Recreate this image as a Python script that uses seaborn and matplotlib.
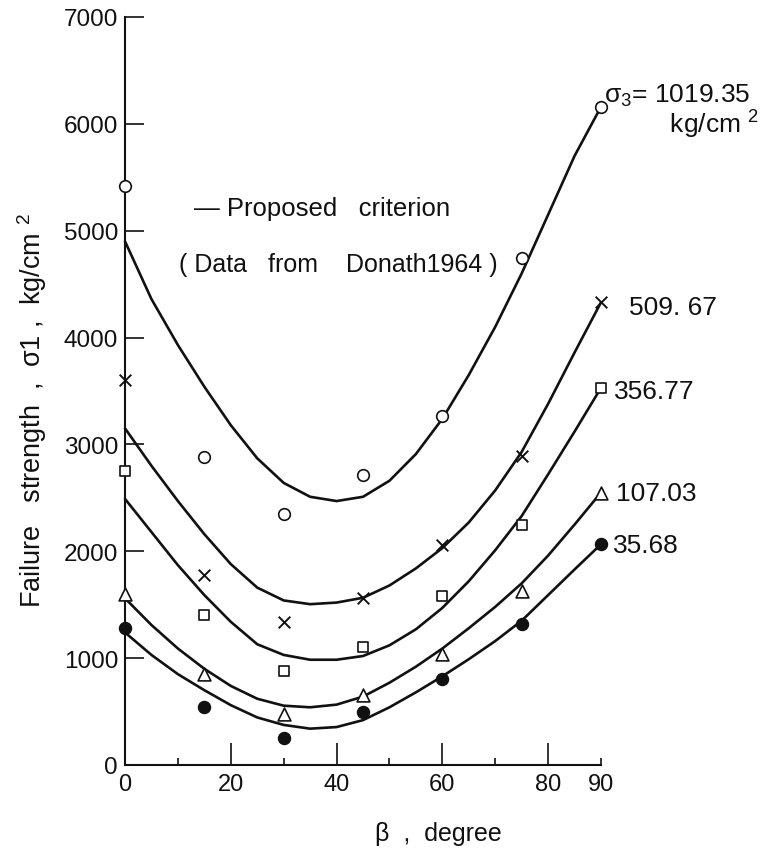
import numpy as np
import pandas as pd
import matplotlib
matplotlib.use("Agg")
import matplotlib.pyplot as plt
import seaborn as sns
from matplotlib.ticker import FixedLocator, FixedFormatter

# Inclination of the plane of weakness, degrees
beta_test = [0, 15, 30, 45, 60, 75, 90]
beta_curve = [0, 5, 10, 15, 20, 25, 30, 35, 40, 45, 50, 55, 60, 65, 70, 75, 80, 85, 90]

# Confining pressure sigma_3, kg/cm^2
confining = ["1019.35", "509.67", "356.77", "107.03", "35.68"]

# Measured failure strength sigma_1, kg/cm^2 (Donath 1964)
test_1019 = [5420, 2880, 2350, 2710, 3270, 4740, 6160]
test_509 = [3600, 1780, 1340, 1565, 2055, 2895, 4330]
test_356 = [2750, 1400, 880, 1105, 1585, 2245, 3530]
test_107 = [1600, 850, 475, 657, 1042, 1624, 2550]
test_35 = [1280, 545, 250, 498, 808, 1315, 2066]

# Proposed criterion, sigma_1 in kg/cm^2
crit_1019 = [4900, 4360, 3930, 3540, 3180, 2870, 2640, 2510, 2470, 2510,
             2660, 2910, 3240, 3650, 4100, 4600, 5150, 5700, 6160]
crit_509 = [3150, 2800, 2470, 2160, 1880, 1660, 1540, 1505, 1520, 1565,
            1680, 1840, 2030, 2270, 2570, 2930, 3380, 3860, 4330]
crit_356 = [2490, 2180, 1870, 1590, 1340, 1130, 1030, 985, 985, 1020,
            1120, 1270, 1470, 1720, 2010, 2330, 2720, 3120, 3530]
crit_107 = [1560, 1310, 1090, 900, 740, 620, 555, 540, 565, 640,
            770, 920, 1090, 1280, 1480, 1700, 1960, 2250, 2550]
crit_35 = [1240, 1030, 850, 700, 560, 445, 375, 340, 355, 420,
           540, 680, 830, 990, 1160, 1350, 1590, 1830, 2066]

tests = pd.concat([
    pd.DataFrame({"beta": beta_test, "sigma1": v, "sigma3": c})
    for c, v in zip(confining, [test_1019, test_509, test_356, test_107, test_35])
])
curves = pd.concat([
    pd.DataFrame({"beta": beta_curve, "sigma1": v, "sigma3": c})
    for c, v in zip(confining, [crit_1019, crit_509, crit_356, crit_107, crit_35])
])

sns.set_theme(style="white")
plt.rcParams["font.family"] = ["Liberation Sans", "DejaVu Sans"]
plt.rcParams["mathtext.fontset"] = "custom"
plt.rcParams["mathtext.rm"] = "Liberation Sans"
plt.rcParams["mathtext.it"] = "Liberation Sans:italic"
plt.rcParams["mathtext.bf"] = "Liberation Sans:bold"

INK = "#111111"

fig = plt.figure(figsize=(7.77, 8.53), dpi=100)
ax = fig.add_axes([0.1609, 0.1020, 0.6126, 0.8769])

# Criterion curves
for c in confining:
    sns.lineplot(data=curves[curves["sigma3"] == c], x="beta", y="sigma1",
                 color=INK, linewidth=1.9, estimator=None, sort=True,
                 legend=False, ax=ax, clip_on=False, zorder=2)

# Test data, one marker style per confining pressure
marker_styles = {
    "1019.35": dict(marker="o", facecolor="white", edgecolor=INK, s=70, linewidth=1.2),
    "509.67": dict(marker="x", color=INK, s=70, linewidth=1.4),
    "356.77": dict(marker="s", facecolor="white", edgecolor=INK, s=60, linewidth=1.2),
    "107.03": dict(marker="^", facecolor="white", edgecolor=INK, s=85, linewidth=1.2),
    "35.68": dict(marker="o", color=INK, edgecolor=INK, s=75, linewidth=1.0),
}
for c in confining:
    kw = dict(marker_styles[c])
    kw.setdefault("color", INK)
    sns.scatterplot(data=tests[tests["sigma3"] == c], x="beta", y="sigma1",
                    legend=False, ax=ax, clip_on=False, zorder=4, **kw)

ax.set_xlim(0, 90)
ax.set_ylim(0, 7000)

for side in ["top", "right"]:
    ax.spines[side].set_visible(False)
for side in ["left", "bottom"]:
    ax.spines[side].set_linewidth(1.5)
    ax.spines[side].set_color(INK)

ax.yaxis.set_major_locator(FixedLocator([0, 1000, 2000, 3000, 4000, 5000, 6000, 7000]))
ax.xaxis.set_major_locator(FixedLocator([0, 20, 40, 60, 80]))
ax.xaxis.set_minor_locator(FixedLocator([10, 30, 50, 70, 90]))
ax.xaxis.set_minor_formatter(FixedFormatter(["", "", "", "", "90"]))

ax.tick_params(axis="y", which="major", direction="in", length=14, width=1.2,
               pad=5, labelsize=17.5, colors=INK, left=True)
ax.tick_params(axis="x", which="major", direction="in", length=16, width=1.2,
               pad=6, labelsize=17, colors=INK, bottom=True)
ax.tick_params(axis="x", which="minor", direction="in", length=5, width=1.2,
               pad=6, labelsize=17, colors=INK, bottom=True)

ax.set_xlabel("β  ,  degree", fontsize=18, color=INK)
ax.xaxis.set_label_coords(0.658, -0.075)
ax.xaxis.label.set_va("top")
ax.set_ylabel("Failure   strength  ,  σ1 ,  kg/cm $^2$", fontsize=19.5, color=INK)
ax.yaxis.set_label_coords(-0.16, 0.475)

# Confining pressure labels at the right end of each curve
label_kw = dict(fontsize=19, color=INK, ha="left", va="center", clip_on=False)
ax.text(90.6, 6120, "σ$_3$= 1019.35\n         kg/cm $^2$", linespacing=1.0, **label_kw)
ax.text(95.3, 4282, "509. 67", **label_kw)
ax.text(92.5, 3502, "356.77", **label_kw)
ax.text(92.9, 2545, "107.03", **label_kw)
ax.text(92.3, 2056, "35.68", **label_kw)

# Key
ax.text(13.1, 5210, "— Proposed   criterion", fontsize=18.5, color=INK,
        ha="left", va="center")
ax.text(10.3, 4685, "( Data   from    Donath1964 )", fontsize=18, color=INK,
        ha="left", va="center")

fig.savefig("out.png", dpi=100, facecolor="white")
